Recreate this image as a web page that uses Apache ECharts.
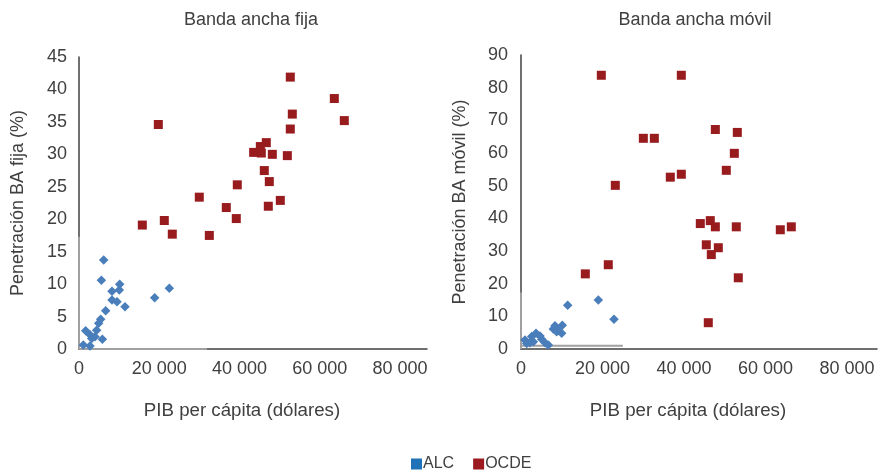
<!DOCTYPE html>
<html>
<head>
<meta charset="utf-8">
<script src="https://cdn.jsdelivr.net/npm/echarts@6/dist/echarts.min.js"></script>
<style>
html,body{margin:0;padding:0;background:#fff;}
#c{width:879px;height:472px;}
</style>
</head>
<body>
<div id="c"></div>
<script>
// ---- Data ----
const titles = ['Banda ancha fija', 'Banda ancha móvil'];
const xAxisName = 'PIB per cápita (dólares)';
const yAxisNames = ['Penetración BA fija (%)', 'Penetración BA móvil (%)'];
const seriesNames = ['ALC', 'OCDE'];

// Banda ancha fija: [PIB per cápita, penetración %]
const fijaALC = [
  [6150,13.7],[5570,10.6],[10140,9.97],[10050,9.1],[8220,8.9],[22510,9.35],
  [18860,7.9],[8220,7.55],[9470,7.3],[11460,6.5],[6650,5.9],[5400,4.6],
  [4900,3.96],[4400,2.9],[1660,2.8],[2740,2.2],[3990,1.9],[3160,1.6],
  [5820,1.5],[1080,0.6],[2740,0.46]
];
const fijaOCDE = [
  [52660,41.9],[63630,38.6],[53160,36.2],[66120,35.2],[19770,34.6],[52660,33.9],
  [46680,31.8],[45190,31.2],[43530,30.3],[45440,30.2],[48180,30.0],[51920,29.8],
  [46180,27.5],[47430,25.8],[39450,25.3],[29980,23.4],[50170,22.9],[36710,21.8],
  [47180,22.0],[39200,20.1],[21260,19.8],[15780,19.1],[23250,17.7],[32480,17.5]
];
// Banda ancha móvil
const movilALC = [
  [18970,15.0],[11460,13.4],[22820,9.1],[8340,7.1],[10140,7.3],[7930,6.1],
  [9160,5.8],[9980,4.8],[8760,5.3],[980,2.75],[1390,1.7],[2620,3.8],
  [3680,4.8],[4660,4.0],[5070,3.0],[5890,1.9],[6700,1.2],[3030,2.2],[2210,1.9]
];
const movilOCDE = [
  [19710,83.8],[39340,83.8],[47690,67.2],[53080,66.3],[30020,64.5],[32720,64.5],
  [52350,59.9],[50380,54.7],[39340,53.5],[36640,52.6],[23140,50.1],[44000,38.4],
  [46450,39.3],[47690,37.4],[52830,37.4],[63630,36.5],[66330,37.4],[45470,31.9],
  [48420,31.0],[46700,28.9],[21420,25.8],[15780,23.0],[53320,21.8],[45960,8.05]
];
// grey guide segments in the original
const fijaGuideV = [[0,0],[0,17.3]];
const fijaGuideH = [[0,0],[31900,0]];
const movilGuideV = [[0,0],[0,17.3]];
const movilGuideH = [[0,1],[25000,1]];

const xTicks = [0, 20000, 40000, 60000, 80000];
const yMaxes = [45, 90];
const yIntervals = [5, 10];

// ---- Styling ----
const FONT = 'Liberation Sans, Arial, sans-serif';
const TXT = '#404040';
const BLUE = '#4a7ebb';
const RED = '#981b1e';
const GREY = '#a0a0a0';
const fmt = v => {
  const s = String(Math.round(v));
  return s.replace(/\B(?=(\d{3})+(?!\d))/g, ' ');
};

const grids = [
  {left: 79, top: 57, width: 348, height: 292},
  {left: 521, top: 55, width: 356, height: 294}
];
const xMaxes = [86730, 87360];

function xAxis(i) {
  return {
    type: 'value', gridIndex: i, min: 0, max: xMaxes[i], interval: 20000,
    name: xAxisName, nameLocation: 'middle', nameGap: 52,
    nameTextStyle: {fontFamily: FONT, fontSize: 18.7, color: TXT, padding: [0, 22, 0, 0]},
    axisLine: {show: true, lineStyle: {color: '#404040', width: 1.5}},
    axisTick: {show: false},
    splitLine: {show: false},
    axisLabel: {
      fontFamily: FONT, fontSize: 18, color: TXT, margin: 11,
      showMaxLabel: false,
      formatter: v => xTicks.includes(v) ? fmt(v) : ''
    }
  };
}
function yAxis(i) {
  return {
    type: 'value', gridIndex: i, min: 0, max: yMaxes[i], interval: yIntervals[i],
    name: yAxisNames[i], nameLocation: 'middle', nameGap: 52, nameRotate: 90,
    nameTextStyle: {fontFamily: FONT, fontSize: 18, color: TXT},
    axisLine: {show: true, lineStyle: {color: '#404040', width: 1.5}},
    axisTick: {show: false},
    splitLine: {show: false},
    axisLabel: {fontFamily: FONT, fontSize: 18, color: TXT, margin: 12 + i, padding: [0, 0, 6, 0]}
  };
}
function scatter(name, data, i) {
  const isA = name === 'ALC';
  return {
    name, type: 'scatter', xAxisIndex: i, yAxisIndex: i, data,
    symbol: isA ? 'diamond' : 'rect', symbolSize: isA ? 9.5 : 9,
    itemStyle: {color: isA ? BLUE : RED, opacity: 1},
    z: isA ? 4 : 3
  };
}
function guide(data, i) {
  return {
    type: 'line', xAxisIndex: i, yAxisIndex: i, data, showSymbol: false, symbol: 'none',
    lineStyle: {color: GREY, width: 2}, silent: true, z: 1
  };
}

const option = {
  animation: false,
  backgroundColor: '#fff',
  textStyle: {fontFamily: FONT},
  title: [
    {text: titles[0], left: 246, top: 6, textAlign: 'center',
     textStyle: {fontFamily: FONT, fontSize: 18, fontWeight: 'normal', color: TXT}},
    {text: titles[1], left: 690, top: 6, textAlign: 'center',
     textStyle: {fontFamily: FONT, fontSize: 18, fontWeight: 'normal', color: TXT}}
  ],
  legend: {
    left: 411, top: 456, padding: 0, itemWidth: 11, itemHeight: 11, itemGap: 19,
    icon: 'rect',
    textStyle: {fontFamily: FONT, fontSize: 16, color: TXT, padding: [0, 0, 0, -4]},
    data: [
      {name: 'ALC', itemStyle: {color: '#1f71b8'}},
      {name: 'OCDE', itemStyle: {color: '#9b1b1f'}}
    ]
  },
  grid: grids,
  xAxis: [xAxis(0), xAxis(1)],
  yAxis: [yAxis(0), yAxis(1)],
  series: [
    guide(fijaGuideV, 0), guide(fijaGuideH, 0),
    guide(movilGuideV, 1), guide(movilGuideH, 1),
    scatter('ALC', fijaALC, 0), scatter('OCDE', fijaOCDE, 0),
    scatter('ALC', movilALC, 1), scatter('OCDE', movilOCDE, 1)
  ]
};
const chart = echarts.init(document.getElementById('c'), null, {renderer: 'canvas'});
chart.setOption(option);
</script>
</body>
</html>
